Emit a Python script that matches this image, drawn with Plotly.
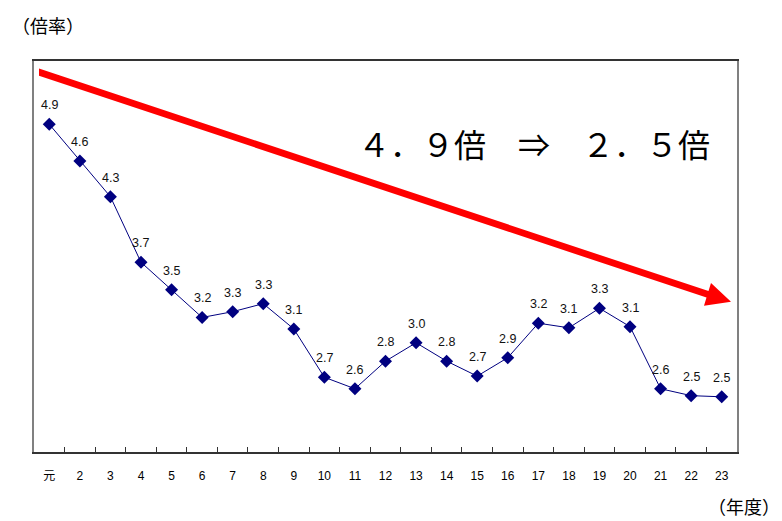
import plotly.graph_objects as go

# ---- data ----
years = ["元", "2", "3", "4", "5", "6", "7", "8", "9", "10", "11", "12",
         "13", "14", "15", "16", "17", "18", "19", "20", "21", "22", "23"]
ratio = [4.90, 4.58, 4.27, 3.70, 3.46, 3.22, 3.27, 3.34, 3.12, 2.70, 2.60, 2.84,
         3.00, 2.84, 2.71, 2.87, 3.17, 3.13, 3.30, 3.14, 2.60, 2.54, 2.53]
y_range = [2.05, 5.45]
headline = "４．９倍　⇒　２．５倍"
y_title = "（倍率）"
x_title = "（年度）"

W, H = 782, 521
L, R, T, B = 34, 45, 61, 69
PW, PH = W - L - R, H - T - B

NAVY = "#000080"
FONT = "Liberation Sans, Arial, Noto Sans CJK JP, sans-serif"
CJK = "Noto Sans CJK JP, sans-serif"

fig = go.Figure()
fig.add_trace(go.Scatter(
    x=years, y=ratio, mode="lines+markers",
    line=dict(color=NAVY, width=1),
    marker=dict(symbol="diamond", size=10, color=NAVY),
    hoverinfo="skip", showlegend=False,
))

annotations = []
for i, yv in enumerate(ratio):
    annotations.append(dict(
        x=i, y=yv, xref="x", yref="y", text=f"{yv:.1f}", showarrow=False,
        yshift=19, font=dict(family=FONT, size=12.5, color="#111111"),
    ))

def px(x, y):
    return (x - L) / PW, (H - B - y) / PH

annotations.append(dict(
    x=px(534, 143)[0], y=px(534, 143)[1], xref="paper", yref="paper",
    text=headline, showarrow=False, xanchor="center", yanchor="middle",
    font=dict(family=CJK, size=32, color="#000000"),
))
annotations.append(dict(
    x=px(10, 25)[0], y=px(10, 25)[1], xref="paper", yref="paper",
    text=y_title, showarrow=False, xanchor="left", yanchor="middle",
    font=dict(family=CJK, size=18, color="#000000"),
))
annotations.append(dict(
    x=px(781, 520)[0], y=px(781, 520)[1], xref="paper", yref="paper",
    text=x_title, showarrow=False, xanchor="right", yanchor="bottom",
    borderpad=0, font=dict(family=CJK, size=18, color="#000000"),
))

# red arrow (decoration) as a polygon in paper coordinates
arrow_px = [(39, 68.5), (708.5, 291.1), (711, 283), (731, 301.7),
            (704, 305.7), (706.5, 297.6), (39, 75.7)]
pts = [px(x, y) for x, y in arrow_px]
path = "M " + " L ".join(f"{a:.5f},{b:.5f}" for a, b in pts) + " Z"

fig.update_layout(
    width=W, height=H,
    margin=dict(l=L, r=R, t=T, b=B, pad=0),
    paper_bgcolor="white", plot_bgcolor="white",
    annotations=annotations,
    shapes=[dict(type="path", path=path, xref="paper", yref="paper",
                 fillcolor="#FF0000", line=dict(width=0), layer="above")],
    xaxis=dict(
        type="category", range=[-0.5, len(years) - 0.5],
        showgrid=False, zeroline=False,
        showline=True, linecolor="#333333", linewidth=1.5, mirror=True,
        ticks="inside", tickson="boundaries", ticklen=5, tickcolor="#333333",
        tickwidth=1, ticklabelstandoff=12,
        tickfont=dict(family=FONT, size=12, color="#000000"),
    ),
    yaxis=dict(
        range=y_range, showgrid=False, zeroline=False, showticklabels=False,
        showline=True, linecolor="#808080", linewidth=1.5, mirror=True,
        ticks="",
    ),
    hovermode=False,
)

fig.write_html("out.html")
